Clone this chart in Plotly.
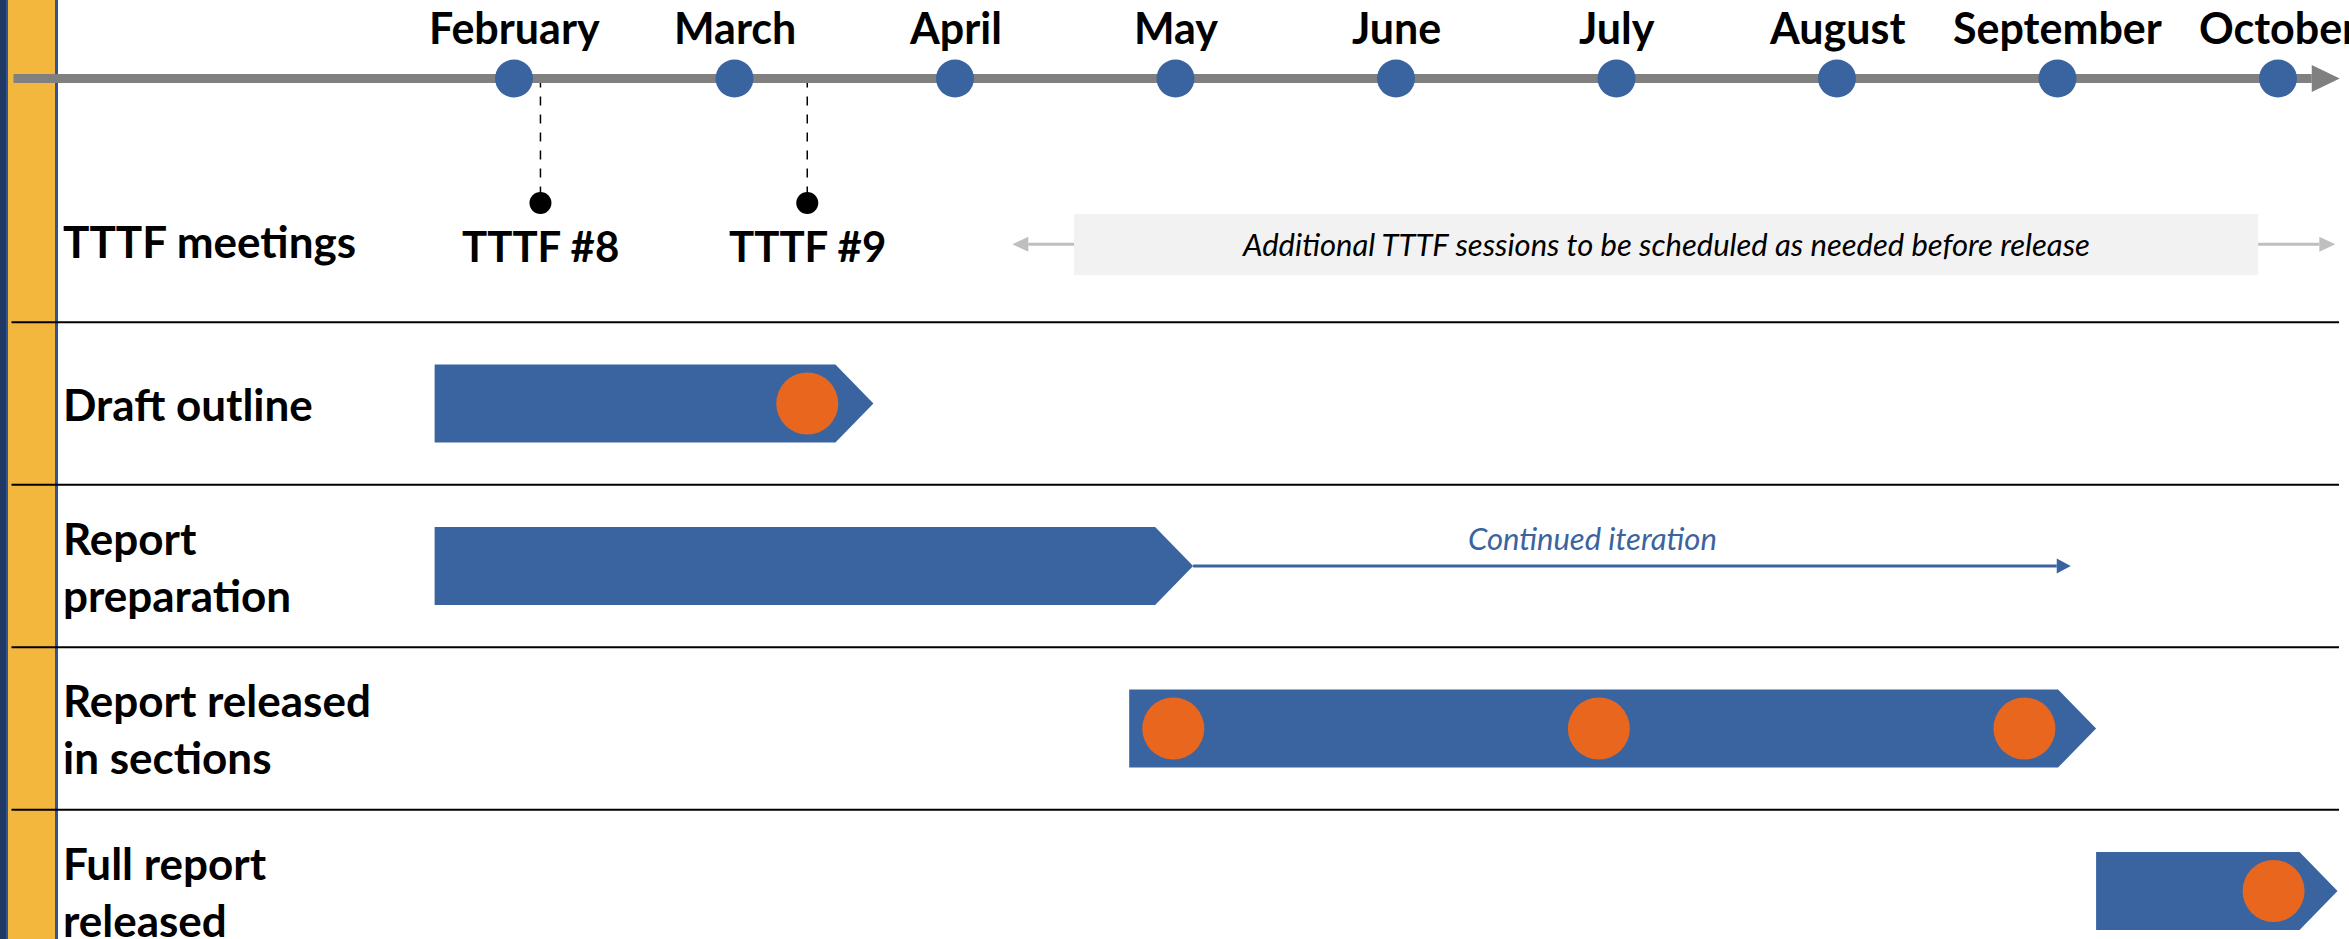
import plotly.graph_objects as go

# ---------------- data ----------------
months = ["February", "March", "April", "May", "June", "July", "August", "September", "October"]
month_pos = [2, 3, 4, 5, 6, 7, 8, 9, 10]

task_labels = ["TTTF meetings", "Draft outline", "Report<br>preparation",
               "Report released<br>in sections", "Full report<br>released"]
task_rows = [0, 1, 2, 3, 4]

bar_rows = [1, 2, 3, 4]
bar_start = [1.64, 1.64, 4.79, 9.175]
bar_end = [3.63, 5.08, 9.175, 10.27]

milestone_rows = [1, 3, 3, 3, 4]
milestone_pos = [3.33, 4.99, 6.92, 8.85, 9.98]

meeting_labels = ["TTTF #8", "TTTF #9"]
meeting_pos = [2.12, 3.33]

sessions_text = "Additional TTTF sessions to be scheduled as needed before release"
sessions_span = [4.54, 9.91]
sessions_arrow_tips = [4.26, 10.26]

iteration_text = "Continued iteration"
iteration_span = [5.08, 9.06]
iteration_label_pos = 6.89

timeline_span = [-0.27, 10.28]

# ---------------- layout constants ----------------
W, H = 2349, 939
PXM, PXR = 220.5, 162.5          # pixels per month / per row
X_RANGE = [2 - 514 / PXM, 2 + (W - 514) / PXM]
Y_RANGE = [(H - 241) / PXR, -241 / PXR]   # reversed


def dx(px):
    return px / PXM


def dy(px):
    return px / PXR


BLUE = "#3A64A0"
ORANGE = "#E9661E"
GRAY = "#808080"
LGRAY = "#BFBFBF"
FONT = "Lato"

fig = go.Figure()

# connectors from timeline to meeting dots
meet_dot_row = (203 - 241) / PXR
for p in meeting_pos:
    fig.add_trace(go.Scatter(x=[p, p], y=[-1, meet_dot_row], mode="lines",
                             line=dict(color="black", width=1.5, dash="dash"),
                             hoverinfo="skip", showlegend=False))
fig.add_trace(go.Scatter(x=meeting_pos, y=[meet_dot_row] * len(meeting_pos), mode="markers",
                         marker=dict(size=22, color="black"), hoverinfo="skip", showlegend=False))

# timeline
head_len, head_half = dx(28), dy(13.5)
fig.add_trace(go.Scatter(x=[timeline_span[0], timeline_span[1] - head_len], y=[-1, -1],
                         mode="lines", line=dict(color=GRAY, width=9),
                         hoverinfo="skip", showlegend=False))
tx = timeline_span[1]
fig.add_trace(go.Scatter(x=[tx - head_len, tx, tx - head_len, tx - head_len],
                         y=[-1 - head_half, -1, -1 + head_half, -1 - head_half],
                         mode="lines", fill="toself", fillcolor=GRAY, line=dict(width=0),
                         hoverinfo="skip", showlegend=False))
fig.add_trace(go.Scatter(x=month_pos, y=[-1] * len(month_pos), mode="markers",
                         marker=dict(size=38, color=BLUE), hoverinfo="skip", showlegend=False))

# gray arrows around sessions box
ah_len, ah_half = dx(16), dy(7.5)
for base, tip in zip(sessions_span, sessions_arrow_tips):
    sgn = 1 if tip > base else -1
    fig.add_trace(go.Scatter(x=[base, tip - sgn * ah_len], y=[0.02, 0.02], mode="lines",
                             line=dict(color=LGRAY, width=3), hoverinfo="skip", showlegend=False))
    fig.add_trace(go.Scatter(x=[tip - sgn * ah_len, tip, tip - sgn * ah_len, tip - sgn * ah_len],
                             y=[0.02 - ah_half, 0.02, 0.02 + ah_half, 0.02 - ah_half],
                             mode="lines", fill="toself", fillcolor=LGRAY, line=dict(width=0),
                             hoverinfo="skip", showlegend=False))

# bars (chevrons)
half_h, tip_len = dy(39), dx(38)
for r, s, e in zip(bar_rows, bar_start, bar_end):
    fig.add_trace(go.Scatter(x=[s, e - tip_len, e, e - tip_len, s, s],
                             y=[r - half_h, r - half_h, r, r + half_h, r + half_h, r - half_h],
                             mode="lines", fill="toself", fillcolor=BLUE,
                             line=dict(width=0), hoverinfo="skip", showlegend=False))

# continued iteration arrow
ci_row = 2
il_len, il_half = dx(14), dy(7.5)
fig.add_trace(go.Scatter(x=[iteration_span[0], iteration_span[1] - il_len], y=[ci_row, ci_row],
                         mode="lines", line=dict(color=BLUE, width=3),
                         hoverinfo="skip", showlegend=False))
ie = iteration_span[1]
fig.add_trace(go.Scatter(x=[ie - il_len, ie, ie - il_len, ie - il_len],
                         y=[ci_row - il_half, ci_row, ci_row + il_half, ci_row - il_half],
                         mode="lines", fill="toself", fillcolor=BLUE, line=dict(width=0),
                         hoverinfo="skip", showlegend=False))

# milestones
fig.add_trace(go.Scatter(x=milestone_pos, y=milestone_rows, mode="markers",
                         marker=dict(size=62, color=ORANGE), hoverinfo="skip", showlegend=False))

# ---------------- shapes ----------------
shapes = []
px2p = lambda px: px / W
for x0, x1, col in [(0, 6, "#1F3864"), (6, 8, "#2F5597"), (8, 55, "#F4B73E"), (55, 58, "#2F5597")]:
    shapes.append(dict(type="rect", xref="paper", yref="paper", x0=px2p(x0), x1=px2p(x1),
                       y0=0, y1=1, fillcolor=col, line=dict(width=0), layer="below"))
for r in [0.5, 1.5, 2.5, 3.5]:
    shapes.append(dict(type="line", xref="x", yref="y", x0=X_RANGE[0] + dx(11.5), x1=X_RANGE[0] + dx(2339),
                       y0=r, y1=r, line=dict(color="black", width=2), layer="below"))
shapes.append(dict(type="rect", xref="x", yref="y", x0=sessions_span[0], x1=sessions_span[1],
                   y0=(214 - 241) / PXR, y1=(275 - 241) / PXR, fillcolor="#F2F2F2",
                   line=dict(width=0), layer="below"))

# ---------------- annotations ----------------
ann = []
for m, p in zip(months, month_pos):
    ann.append(dict(x=p, y=(27 - 241) / PXR, text=f"<b>{m}</b>", showarrow=False,
                    xanchor="center", yanchor="middle",
                    font=dict(family=FONT, size=43, color="black")))
for t, p in zip(meeting_labels, meeting_pos):
    ann.append(dict(x=p, y=(246 - 241) / PXR, text=f"<b>{t}</b>", showarrow=False,
                    xanchor="center", yanchor="middle",
                    font=dict(family=FONT, size=42, color="black")))
for t, r in zip(task_labels, task_rows):
    ann.append(dict(x=X_RANGE[0] + dx(61), y=r, text=f"<b>{t}</b>", showarrow=False,
                    xanchor="left", yanchor="middle", align="left",
                    font=dict(family=FONT, size=44, color="black")))
ann.append(dict(x=sum(sessions_span) / 2, y=0.02, text=f"<i>{sessions_text}</i>", showarrow=False,
                xanchor="center", yanchor="middle", font=dict(family=FONT, size=31, color="black")))
ann.append(dict(x=iteration_label_pos, y=(538 - 241) / PXR,
                text=f"<i>{iteration_text}</i>", showarrow=False,
                xanchor="center", yanchor="middle", font=dict(family=FONT, size=31, color=BLUE)))

fig.update_layout(
    width=W, height=H, margin=dict(l=0, r=0, t=0, b=0),
    paper_bgcolor="white", plot_bgcolor="white",
    xaxis=dict(range=X_RANGE, visible=False, fixedrange=True),
    yaxis=dict(range=Y_RANGE, visible=False, fixedrange=True),
    shapes=shapes, annotations=ann, showlegend=False,
)

fig.write_html("out.html", config={"displayModeBar": False},
               post_script="document.body.style.margin='0';document.body.style.overflow='hidden';")
